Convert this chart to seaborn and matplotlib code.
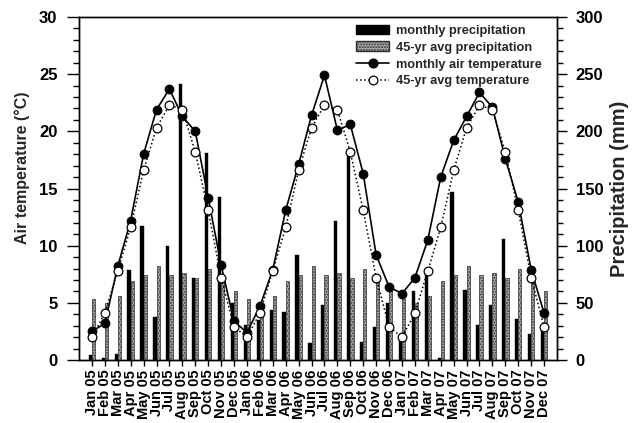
import numpy as np
import pandas as pd
import matplotlib
matplotlib.use("Agg")
import matplotlib.pyplot as plt
import seaborn as sns
from matplotlib.patches import Patch
from matplotlib.lines import Line2D
from matplotlib.ticker import MultipleLocator

# ---------------- data ----------------
months = [f"{m} {y}" for y in ["05", "06", "07"]
          for m in ["Jan", "Feb", "Mar", "Apr", "May", "Jun",
                    "Jul", "Aug", "Sep", "Oct", "Nov", "Dec"]]

monthly_precip = [4, 2, 5, 79, 117, 38, 100, 241, 72, 181, 143, 50,
                  31, 35, 44, 42, 92, 15, 48, 122, 178, 16, 29, 50,
                  19, 60, 77, 2, 147, 61, 31, 48, 106, 36, 23, 28]

avg_precip = [53, 50, 56, 69, 74, 82, 74, 76, 72, 80, 70, 60,
              53, 50, 56, 69, 74, 82, 74, 76, 72, 80, 70, 60,
              53, 50, 56, 69, 74, 82, 74, 76, 72, 80, 70, 60]

monthly_temp = [2.5, 3.2, 8.2, 12.2, 18.0, 21.9, 23.7, 21.3, 20.0, 14.2, 8.3, 3.4,
                2.4, 4.7, 7.9, 13.1, 17.1, 21.4, 24.9, 20.1, 20.6, 16.3, 9.2, 6.4,
                5.8, 7.2, 10.5, 16.0, 19.2, 21.3, 23.4, 22.1, 17.6, 13.8, 7.9, 4.1]

avg_temp = [2.0, 4.1, 7.8, 11.6, 16.6, 20.3, 22.3, 21.9, 18.2, 13.1, 7.2, 2.9,
            2.0, 4.1, 7.8, 11.6, 16.6, 20.3, 22.3, 21.9, 18.2, 13.1, 7.2, 2.9,
            2.0, 4.1, 7.8, 11.6, 16.6, 20.3, 22.3, 21.9, 18.2, 13.1, 7.2, 2.9]

bar_series = ["monthly precipitation", "45-yr avg precipitation"]
line_series = ["monthly air temperature", "45-yr avg temperature"]

GRAY_FACE = "#ababab"
GRAY_EDGE = "#2e2e2e"

# ---------------- style ----------------
sns.set_theme(style="ticks")
plt.rcParams["font.family"] = ["Liberation Sans", "DejaVu Sans"]
plt.rcParams["font.weight"] = "bold"
plt.rcParams["axes.labelweight"] = "bold"

fig = plt.figure(figsize=(6.36, 4.23), dpi=100)
ax = fig.add_axes([0.1242, 0.1489, 0.7516, 0.8109])
ax2 = ax.twinx()

# ---------------- bars (precipitation, right axis) ----------------
df_bar = pd.DataFrame({
    "month": months * 2,
    "precip": monthly_precip + avg_precip,
    "series": [bar_series[0]] * len(months) + [bar_series[1]] * len(months),
})
sns.barplot(data=df_bar, x="month", y="precip", hue="series",
            order=months, hue_order=bar_series,
            palette=["black", GRAY_FACE], saturation=1, width=0.5,
            dodge=True, errorbar=None, legend=False, ax=ax2)
for p in ax2.containers[0]:
    p.set_edgecolor("black")
    p.set_linewidth(0.3)
for p in ax2.containers[1]:
    p.set_facecolor(GRAY_FACE)
    p.set_edgecolor(GRAY_EDGE)
    p.set_linewidth(0.5)
    p.set_hatch("......")

# ---------------- lines (temperature, left axis) ----------------
x = np.arange(len(months))
df_line = pd.DataFrame({"x": x, "monthly": monthly_temp, "avg": avg_temp})
sns.lineplot(data=df_line, x="x", y="monthly", ax=ax, color="black",
             linewidth=1.2, marker="o", markersize=6.3,
             markerfacecolor="black", markeredgecolor="black", zorder=3)
sns.lineplot(data=df_line, x="x", y="avg", ax=ax, color="black",
             linewidth=1.1, linestyle=":", marker="o", markersize=6.3,
             markerfacecolor="white", markeredgecolor="black",
             markeredgewidth=0.9, zorder=4)

ax.set_zorder(ax2.get_zorder() + 1)
ax.patch.set_visible(False)

# ---------------- axes ----------------
ax.set_xlim(-1, 36)
ax.set_ylim(0, 30)
ax2.set_ylim(0, 300)
ax.set_xticks(x)
ax.set_xticklabels(months, rotation=90, fontsize=10.5, fontweight="bold")
ax.yaxis.set_major_locator(MultipleLocator(5))
ax.yaxis.set_minor_locator(MultipleLocator(1))
ax2.yaxis.set_major_locator(MultipleLocator(50))
ax2.yaxis.set_minor_locator(MultipleLocator(10))

ax.tick_params(axis="y", which="major", direction="out", length=8.5, width=1,
               labelsize=12, pad=7, color="black", labelcolor="black")
ax.tick_params(axis="y", which="minor", direction="out", length=4, width=1, color="black")
ax2.tick_params(axis="y", which="major", direction="out", length=7.5, width=1,
                labelsize=12, pad=6, color="black", labelcolor="black")
ax2.tick_params(axis="y", which="minor", direction="out", length=4, width=1, color="black")
ax.tick_params(axis="x", which="major", direction="out", length=4, width=1,
               pad=3, color="black", labelcolor="black")
for lab in ax.get_yticklabels() + ax2.get_yticklabels():
    lab.set_fontweight("bold")

for a in (ax, ax2):
    for s in a.spines.values():
        s.set_linewidth(1.0)
        s.set_color("black")
    a.grid(False)

ax.set_xlabel("")
ax.set_ylabel("Air temperature (°C)", fontsize=11.5, fontweight="bold")
ax.yaxis.set_label_coords(-0.103, 0.56)
ax2.set_ylabel("Precipitation (mm)", fontsize=14.5, fontweight="bold", rotation=90)
ax2.yaxis.set_label_coords(1.11, 0.5)

# ---------------- legend ----------------
handles = [
    Patch(facecolor="black", edgecolor="black", label=bar_series[0]),
    Patch(facecolor=GRAY_FACE, edgecolor=GRAY_EDGE, hatch="......", label=bar_series[1]),
    Line2D([], [], color="black", lw=1.2, marker="o", markersize=6.3,
           markerfacecolor="black", label=line_series[0]),
    Line2D([], [], color="black", lw=1.1, ls=":", marker="o", markersize=6.3,
           markerfacecolor="white", markeredgewidth=0.9, label=line_series[1]),
]
leg = ax.legend(handles=handles, loc="upper right", bbox_to_anchor=(0.985, 1.0),
                frameon=False, prop={"weight": "bold", "size": 9.2},
                handlelength=2.6, handleheight=0.8, handletextpad=0.55,
                labelspacing=0.35, borderaxespad=0.2, numpoints=1)

fig.savefig("out.png", dpi=100)
